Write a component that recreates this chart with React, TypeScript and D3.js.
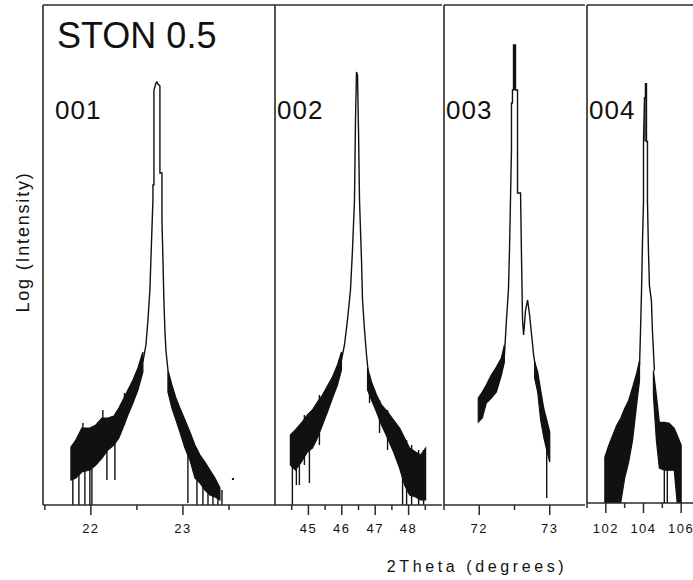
import React from 'react';
import * as d3 from 'd3';

const W = 693;
const H = 580;

// ---------- data (2θ in degrees, log intensity in arbitrary units) ----------
const panelNames = ['001', '002', '003', '004'];
const panelDomains: [number, number][] = [[21.48, 24.0], [44, 49], [71.5, 73.5], [101, 107]];
const majorTicks = [[22, 23], [45, 46, 47, 48], [72, 73], [102, 104, 106]];
const minorTicks = [[21.5, 22.5, 23.5], [44.5, 45.5, 46.5, 47.5, 48.5], [71.5, 72.5], [101, 103, 105]];
const title = 'STON 0.5';
const xTitle = '2Theta (degrees)';
const yTitle = 'Log (Intensity)';

// noisy tails: [2θ, low envelope, high envelope]
const band001L = [
  [21.783, 0.25, 0.58], [21.837, 0.27, 0.65], [21.902, 0.33, 0.77], [21.989, 0.35, 0.77],
  [22.054, 0.40, 0.80], [22.120, 0.47, 0.87], [22.185, 0.55, 0.87], [22.250, 0.60, 0.89],
  [22.304, 0.67, 0.97], [22.348, 0.77, 1.05], [22.402, 0.90, 1.15], [22.457, 1.02, 1.25],
  [22.511, 1.15, 1.37], [22.565, 1.33, 1.53],
];
const peak001 = [
  [22.565, 1.43], [22.598, 1.60], [22.620, 1.85], [22.641, 2.15], [22.652, 2.45], [22.663, 2.75],
  [22.674, 3.05], [22.674, 3.20], [22.685, 3.20], [22.685, 4.15], [22.707, 4.22], [22.717, 4.23],
  [22.728, 4.21], [22.750, 4.19], [22.750, 3.32], [22.772, 3.32], [22.772, 2.85], [22.783, 2.45],
  [22.793, 2.05], [22.804, 1.75], [22.815, 1.55], [22.837, 1.35],
];
const band001R = [
  [22.837, 1.13, 1.35], [22.880, 0.97, 1.20], [22.924, 0.85, 1.07], [22.967, 0.73, 0.97],
  [23.022, 0.57, 0.85], [23.076, 0.45, 0.73], [23.130, 0.27, 0.60], [23.185, 0.22, 0.50],
  [23.239, 0.15, 0.43], [23.293, 0.10, 0.35], [23.348, 0.08, 0.27], [23.402, 0.05, 0.17],
];
const spikes001 = [
  [21.804, 0.55, 0], [21.870, 0.6, 0], [21.935, 0.7, 0], [21.989, 0.7, 0], [22.011, 0.7, 0],
  [22.174, 0.8, 0.25], [22.261, 0.85, 0.25], [21.913, 0.82, 0.5], [22.130, 0.95, 0.6],
  [22.365, 1.12, 0.8],
  [23.054, 0.6, 0.02], [23.152, 0.45, 0], [23.217, 0.4, 0], [23.272, 0.35, 0],
  [23.326, 0.3, 0], [23.380, 0.2, 0], [23.424, 0.15, 0],
];
const dots001 = [[23.543, 0.26]];

const band002L = [
  [44.460, 0.40, 0.70], [44.610, 0.35, 0.75], [44.790, 0.43, 0.82], [44.970, 0.53, 0.90],
  [45.120, 0.57, 0.95], [45.270, 0.67, 1.03], [45.420, 0.80, 1.10], [45.570, 0.93, 1.19],
  [45.720, 1.07, 1.28], [45.870, 1.20, 1.40], [45.990, 1.35, 1.53],
];
const peak002 = [
  [45.990, 1.45], [46.080, 1.60], [46.170, 1.85], [46.260, 2.15], [46.320, 2.55], [46.380, 3.05],
  [46.410, 3.85], [46.440, 4.33], [46.470, 4.30], [46.500, 3.75], [46.530, 3.05], [46.590, 2.45],
  [46.620, 2.05], [46.680, 1.75], [46.740, 1.50], [46.800, 1.30],
];
const band002R = [
  [46.770, 1.15, 1.37], [46.890, 1.05, 1.23], [47.040, 0.93, 1.10], [47.190, 0.80, 1.00],
  [47.370, 0.67, 0.93], [47.550, 0.53, 0.85], [47.730, 0.37, 0.77], [47.880, 0.20, 0.67],
  [48.030, 0.10, 0.57], [48.210, 0.08, 0.53], [48.360, 0.05, 0.50], [48.510, 0.05, 0.57],
];
const spikes002 = [
  [44.520, 0.7, 0], [44.640, 0.7, 0.2], [44.730, 0.7, 0.2], [45.030, 0.9, 0.22],
  [44.880, 0.9, 0.4], [45.330, 1.1, 0.6],
  [46.830, 1.3, 1.02], [47.130, 1.05, 0.72], [47.370, 0.95, 0.55],
  [47.820, 0.7, 0], [47.940, 0.65, 0], [48.090, 0.6, 0], [48.300, 0.55, 0], [48.450, 0.55, 0],
];

const band003L = [
  [71.986, 0.83, 1.07], [72.043, 0.87, 1.13], [72.100, 1.02, 1.20], [72.171, 1.07, 1.30],
  [72.243, 1.13, 1.38], [72.314, 1.30, 1.47], [72.357, 1.43, 1.60],
];
const peak003 = [
  [72.357, 1.50], [72.386, 1.85], [72.414, 2.15], [72.429, 2.55], [72.443, 3.05], [72.457, 3.55],
  [72.457, 4.02], [72.471, 4.02], [72.471, 4.15], [72.486, 4.15], [72.486, 4.60], [72.514, 4.60],
  [72.514, 4.15], [72.543, 4.15], [72.543, 3.12], [72.586, 3.12], [72.600, 2.45], [72.614, 1.85],
  [72.629, 1.70], [72.657, 1.95], [72.686, 2.05], [72.714, 1.90], [72.743, 1.70], [72.771, 1.50],
  [72.800, 1.37],
];
const band003R = [
  [72.786, 1.27, 1.43], [72.829, 1.13, 1.33], [72.871, 0.85, 1.15], [72.914, 0.68, 0.97],
  [72.957, 0.55, 0.85], [73.000, 0.43, 0.73],
];
const spikes003 = [[72.957, 0.6, 0.07], [72.500, 4.60, 4.15]];

const band004L = [
  [101.947, 0, 0.46], [102.158, 0, 0.58], [102.368, 0, 0.68], [102.579, 0, 0.78],
  [102.789, 0, 0.85], [103.000, 0.25, 0.95], [103.211, 0.41, 1.03], [103.421, 0.63, 1.16],
  [103.632, 0.98, 1.30], [103.789, 1.23, 1.43],
];
const peak004 = [
  [103.789, 1.38], [103.842, 1.73], [103.895, 2.13], [103.947, 2.63], [104.000, 3.03], [104.000, 3.63],
  [104.053, 4.07], [104.105, 4.07], [104.105, 4.21], [104.158, 4.21], [104.158, 3.63], [104.211, 3.63],
  [104.211, 3.03], [104.263, 2.53], [104.316, 2.18], [104.421, 2.03], [104.474, 1.73], [104.579, 1.33],
];
const band004R = [
  [104.526, 1.08, 1.33], [104.684, 0.63, 1.08], [104.842, 0.35, 0.81], [105.105, 0.33, 0.81],
  [105.368, 0.33, 0.80], [105.632, 0.33, 0.75], [105.789, 0, 0.68], [106.000, 0, 0.58],
];
const spikes004 = [[105.105, 0.5, 0], [105.263, 0.5, 0], [104.080, 4.07, 3.63]];

const bands = [[band001L, band001R], [band002L, band002R], [band003L, band003R], [band004L, band004R]];
const peaks = [peak001, peak002, peak003, peak004];
const spikes = [spikes001, spikes002, spikes003, spikes004];
const dots = [dots001, [], [], []];

// ---------- layout ----------
const panelX: [number, number][] = [[43, 275], [275, 442], [444, 585], [587, 700]];
const TOP = 5;
const panelBottom = [505, 505, 505, 503];
const INK = '#111';
const FRAME = '#2a2a2a';
const FONT = '"Liberation Sans", Arial, Helvetica, sans-serif';

export default function App() {
  return (
    <svg width={W} height={H} style={{ display: 'block', position: 'absolute', left: 0, top: 0, background: '#fff' }}>
      <defs>
        {panelX.map((r, i) => (
          <clipPath id={`clip${i}`} key={i}>
            <rect x={r[0]} y={TOP} width={r[1] - r[0]} height={panelBottom[i] - TOP} />
          </clipPath>
        ))}
      </defs>
      {panelX.map((r, i) => {
        const x = d3.scaleLinear().domain(panelDomains[i]).range(r);
        const y = d3.scaleLinear().domain([0, 5]).range([panelBottom[i], TOP]);
        const area = d3.area<number[]>().x(d => x(d[0])).y0(d => y(d[1])).y1(d => y(d[2]));
        const line = d3.line<number[]>().x(d => x(d[0])).y(d => y(d[1]));
        const bottom = panelBottom[i];
        return (
          <g key={i}>
            <g clipPath={`url(#clip${i})`}>
              {bands[i].map((b, j) => (
                <path key={j} d={area(b) || ''} fill={INK} stroke={INK} strokeWidth={1.2} />
              ))}
              {spikes[i].map((s, j) => (
                <line key={j} x1={x(s[0])} x2={x(s[0])} y1={y(s[1])} y2={y(s[2])} stroke={INK} strokeWidth={1.4} />
              ))}
              <path d={line(peaks[i]) || ''} fill="none" stroke={INK} strokeWidth={1.4} strokeLinejoin="miter" />
              {dots[i].map((p, j) => (
                <rect key={j} x={x(p[0]) - 1} y={y(p[1]) - 1} width={2} height={2} fill={INK} />
              ))}
            </g>
            {/* frame */}
            <line x1={r[0]} x2={r[0]} y1={TOP} y2={bottom} stroke={FRAME} strokeWidth={1.6} />
            <line x1={r[0]} x2={Math.min(r[1], W)} y1={TOP} y2={TOP} stroke={FRAME} strokeWidth={1.6} />
            <line x1={r[0]} x2={Math.min(r[1], W)} y1={bottom} y2={bottom} stroke={FRAME} strokeWidth={1.6} />
            {majorTicks[i].map(t => (
              <g key={`M${t}`}>
                <line x1={x(t)} x2={x(t)} y1={bottom} y2={bottom + 10} stroke={FRAME} strokeWidth={1.5} />
                <text x={x(t)} y={533} textAnchor="middle" fontFamily={FONT} fontSize={13} letterSpacing={1.5} fill="#111">
                  {t}
                </text>
              </g>
            ))}
            {minorTicks[i].map(t => (
              <line key={`m${t}`} x1={x(t)} x2={x(t)} y1={bottom} y2={bottom + 5} stroke={FRAME} strokeWidth={1.5} />
            ))}
            <text x={r[0] + (i === 0 ? 12 : 2)} y={119} fontFamily={FONT} fontSize={26} letterSpacing={1} fill="#111">
              {panelNames[i]}
            </text>
          </g>
        );
      })}
      <text x={57} y={48} fontFamily={FONT} fontSize={36} fill="#111">{title}</text>
      <text x={477} y={572} textAnchor="middle" fontFamily={FONT} fontSize={16} letterSpacing={3.6} fill="#111">
        {xTitle}
      </text>
      <text transform="translate(29,242) rotate(-90)" textAnchor="middle" fontFamily={FONT} fontSize={18} letterSpacing={1.8} fill="#111">
        {yTitle}
      </text>
    </svg>
  );
}
